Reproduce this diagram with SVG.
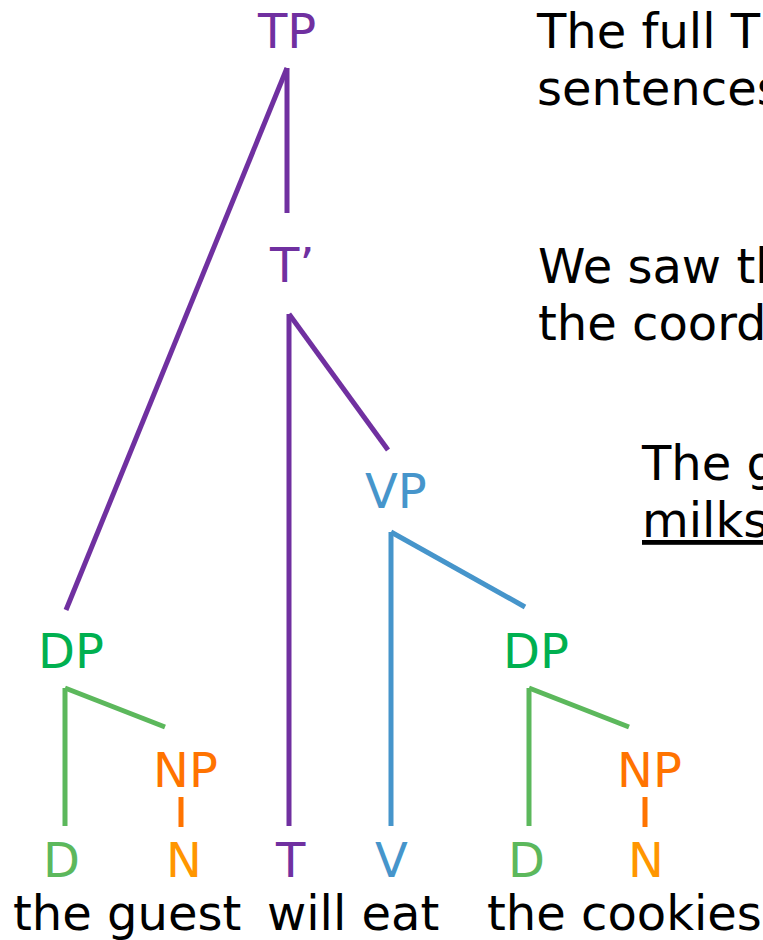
<svg xmlns="http://www.w3.org/2000/svg" width="763" height="940" viewBox="0 0 763 940">
  <style>
    text { font-family: "DejaVu Sans", Verdana, sans-serif; font-size: 48px; }
    .purple { fill: #7030A0; }
    .dp { fill: #00B050; }
    .d { fill: #5CB85C; }
    .np { fill: #FF7300; }
    .n { fill: #FF9600; }
    .vp { fill: #4695CB; }
    .word { fill: #000000; }
    line { stroke-width: 5; fill: none; }
    .lp { stroke: #7030A0; }
    .lg { stroke: #5CB85C; }
    .lo { stroke: #FF7300; }
    .lb { stroke: #4695CB; }
  </style>
  <rect width="763" height="940" fill="#ffffff"/>

  <!-- branches -->
  <g id="connectors">
    <line class="lp" x1="287" y1="68" x2="66" y2="610"/>
    <line class="lp" x1="287" y1="68" x2="287" y2="213"/>
    <line class="lp" x1="289" y1="314" x2="289" y2="826"/>
    <line class="lp" x1="289" y1="314" x2="388" y2="450"/>
    <line class="lb" x1="391" y1="532" x2="391" y2="826"/>
    <line class="lb" x1="391" y1="532" x2="525" y2="607"/>
    <line class="lg" x1="65" y1="688" x2="65" y2="826"/>
    <line class="lg" x1="65" y1="688" x2="165" y2="727"/>
    <line class="lo" x1="181" y1="797" x2="181" y2="827"/>
    <line class="lg" x1="529" y1="688" x2="529" y2="826"/>
    <line class="lg" x1="529" y1="688" x2="629" y2="727"/>
    <line class="lo" x1="645" y1="797" x2="645" y2="827"/>
  </g>

  <!-- tree nodes -->
  <g id="tp"><text class="purple" x="258" y="48">TP</text></g>
  <g id="tbar"><text class="purple" x="270" y="282">T’</text></g>
  <g id="vp"><text class="vp" x="365" y="508">VP</text></g>
  <g id="dp-subject"><text class="dp" x="38" y="668">DP</text></g>
  <g id="np-subject"><text class="np" x="153" y="787">NP</text></g>
  <g id="dp-object"><text class="dp" x="503" y="668">DP</text></g>
  <g id="np-object"><text class="np" x="617" y="787">NP</text></g>

  <!-- terminal categories -->
  <g id="d-subject"><text class="d" x="43" y="877">D</text></g>
  <g id="n-subject"><text class="n" x="166" y="877">N</text></g>
  <g id="t-head"><text class="purple" x="276" y="877">T</text></g>
  <g id="v-head"><text class="vp" x="375" y="877">V</text></g>
  <g id="d-object"><text class="d" x="508" y="877">D</text></g>
  <g id="n-object"><text class="n" x="628" y="877">N</text></g>

  <!-- words -->
  <g id="words">
    <text class="word" x="13" y="930">the guest</text>
    <text class="word" x="267" y="930">will eat</text>
    <text class="word" x="487" y="930">the cookies</text>
  </g>

  <!-- side notes -->
  <g id="notes">
    <text class="word" x="537" y="48">The full T</text>
    <text class="word" x="537" y="105">sentences</text>
    <text class="word" x="538" y="283">We saw th</text>
    <text class="word" x="538" y="340">the coord</text>
    <text class="word" x="642" y="480">The g</text>
    <text class="word" x="642" y="537" text-decoration="underline">milks</text>
  </g>
</svg>
